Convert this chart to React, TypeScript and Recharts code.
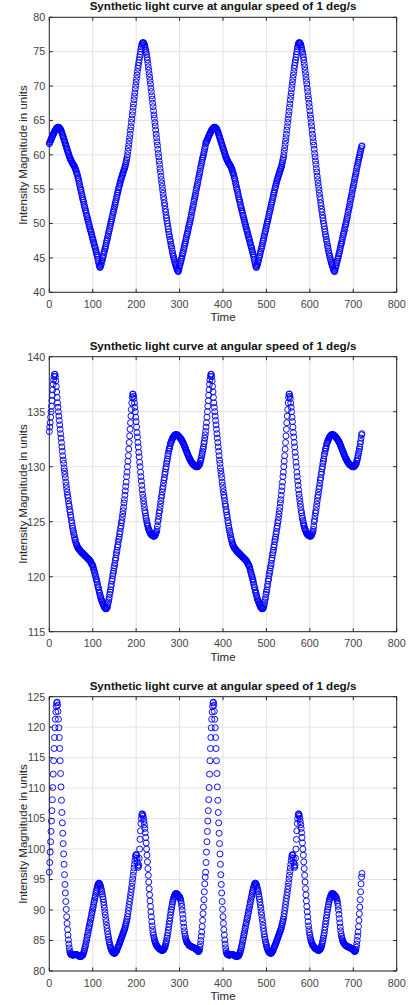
// Three stacked MATLAB-style scatter panels: synthetic light curves sampled once per degree, 0..720.
import { CartesianGrid, ReferenceArea, Scatter, ScatterChart, XAxis, YAxis } from 'recharts';

const TITLE = 'Synthetic light curve at angular speed of 1 deg/s';
const X_LABEL = 'Time';
const Y_LABEL = 'Intensity Magnitude in units';
const TIME_TICKS = [0, 100, 200, 300, 400, 500, 600, 700, 800];

// one 360-degree cycle per panel (the second half of each plot repeats it), plus the point at t=720
const CURVE_A_CYCLE = [
  61.6, 61.8, 61.9, 62.1, 62.2, 62.4, 62.5, 62.7, 62.8, 63.0,
  63.1, 63.2, 63.4, 63.5, 63.6, 63.7, 63.8, 63.9, 63.9, 64.0,
  64.0, 64.0, 64.0, 63.9, 63.9, 63.8, 63.7, 63.5, 63.4, 63.2,
  63.0, 62.8, 62.6, 62.4, 62.2, 62.0, 61.8, 61.6, 61.4, 61.2,
  61.0, 60.8, 60.6, 60.4, 60.2, 60.0, 59.8, 59.6, 59.5, 59.3,
  59.2, 59.1, 58.9, 58.8, 58.7, 58.6, 58.5, 58.4, 58.3, 58.1,
  58.0, 57.8, 57.6, 57.4, 57.2, 57.0, 56.7, 56.5, 56.2, 55.9,
  55.6, 55.3, 55.0, 54.8, 54.5, 54.2, 53.9, 53.6, 53.4, 53.1,
  52.8, 52.5, 52.3, 52.0, 51.8, 51.5, 51.2, 51.0, 50.7, 50.5,
  50.2, 50.0, 49.7, 49.5, 49.2, 49.0, 48.8, 48.5, 48.3, 48.0,
  47.8, 47.6, 47.3, 47.1, 46.8, 46.6, 46.4, 46.1, 45.9, 45.6,
  45.4, 45.1, 44.8, 44.5, 44.2, 43.9, 43.7, 43.6, 43.8, 44.0,
  44.2, 44.5, 44.7, 45.0, 45.2, 45.5, 45.8, 46.0, 46.3, 46.5,
  46.8, 47.1, 47.4, 47.6, 47.9, 48.2, 48.5, 48.8, 49.0, 49.3,
  49.6, 49.9, 50.2, 50.4, 50.7, 51.0, 51.3, 51.6, 51.8, 52.1,
  52.4, 52.7, 53.0, 53.2, 53.5, 53.8, 54.1, 54.4, 54.6, 54.9,
  55.2, 55.4, 55.7, 55.9, 56.2, 56.4, 56.6, 56.8, 57.0, 57.2,
  57.4, 57.6, 57.8, 58.0, 58.2, 58.4, 58.7, 59.0, 59.3, 59.6,
  60.0, 60.5, 61.0, 61.5, 62.0, 62.5, 63.0, 63.6, 64.1, 64.7,
  65.2, 65.8, 66.3, 66.9, 67.4, 68.0, 68.5, 69.0, 69.6, 70.1,
  70.6, 71.1, 71.6, 72.1, 72.6, 73.0, 73.4, 73.8, 74.2, 74.6,
  75.0, 75.4, 75.7, 76.0, 76.2, 76.3, 76.3, 76.3, 76.2, 76.0,
  75.8, 75.5, 75.2, 74.9, 74.6, 74.2, 73.8, 73.3, 72.8, 72.3,
  71.8, 71.3, 70.8, 70.3, 69.7, 69.2, 68.6, 68.1, 67.5, 67.0,
  66.4, 65.8, 65.3, 64.7, 64.2, 63.6, 63.0, 62.5, 61.9, 61.4,
  60.8, 60.2, 59.7, 59.1, 58.6, 58.0, 57.5, 56.9, 56.4, 55.9,
  55.4, 54.9, 54.4, 53.9, 53.5, 53.0, 52.6, 52.1, 51.7, 51.2,
  50.8, 50.4, 50.0, 49.6, 49.2, 48.8, 48.4, 48.1, 47.7, 47.4,
  47.0, 46.7, 46.4, 46.0, 45.7, 45.4, 45.2, 44.9, 44.7, 44.4,
  44.2, 44.0, 43.8, 43.6, 43.4, 43.2, 43.1, 43.0, 43.2, 43.5,
  43.8, 44.0, 44.3, 44.5, 44.8, 45.0, 45.3, 45.6, 45.8, 46.1,
  46.4, 46.7, 47.0, 47.2, 47.5, 47.8, 48.1, 48.4, 48.6, 48.9,
  49.2, 49.5, 49.8, 50.0, 50.3, 50.6, 50.9, 51.2, 51.6, 51.9,
  52.2, 52.5, 52.8, 53.2, 53.5, 53.8, 54.1, 54.4, 54.8, 55.1,
  55.4, 55.7, 56.0, 56.4, 56.7, 57.0, 57.3, 57.6, 58.0, 58.3,
  58.6, 58.9, 59.2, 59.5, 59.7, 60.0, 60.3, 60.6, 60.9, 61.2,
];
const CURVE_A_END = 61.3;
const CURVE_A_TICKS = [40, 45, 50, 55, 60, 65, 70, 75, 80];

const CURVE_B_CYCLE = [
  133.2, 133.6, 134.0, 134.5, 135.0, 135.5, 136.0, 136.5, 137.0, 137.5,
  137.9, 138.2, 138.4, 138.4, 138.2, 137.8, 137.3, 136.8, 136.3, 135.8,
  135.4, 135.0, 134.6, 134.2, 133.8, 133.4, 133.0, 132.6, 132.2, 131.8,
  131.4, 131.0, 130.6, 130.3, 129.9, 129.6, 129.3, 129.0, 128.6, 128.3,
  128.0, 127.7, 127.4, 127.2, 126.9, 126.6, 126.4, 126.1, 125.9, 125.6,
  125.4, 125.1, 124.9, 124.6, 124.4, 124.2, 124.0, 123.8, 123.6, 123.4,
  123.3, 123.1, 123.0, 122.9, 122.8, 122.7, 122.6, 122.6, 122.5, 122.5,
  122.4, 122.4, 122.3, 122.3, 122.2, 122.2, 122.2, 122.1, 122.1, 122.0,
  122.0, 122.0, 121.9, 121.9, 121.8, 121.8, 121.8, 121.7, 121.7, 121.6,
  121.6, 121.6, 121.5, 121.5, 121.4, 121.4, 121.3, 121.2, 121.1, 121.1,
  121.0, 120.9, 120.7, 120.6, 120.4, 120.3, 120.1, 120.0, 119.8, 119.7,
  119.5, 119.3, 119.1, 119.0, 118.8, 118.6, 118.5, 118.3, 118.2, 118.0,
  117.9, 117.8, 117.7, 117.6, 117.5, 117.4, 117.3, 117.2, 117.2, 117.1,
  117.1, 117.1, 117.1, 117.2, 117.3, 117.5, 117.7, 117.9, 118.1, 118.4,
  118.6, 118.8, 119.1, 119.3, 119.6, 119.8, 120.1, 120.3, 120.5, 120.8,
  121.0, 121.2, 121.5, 121.7, 122.0, 122.2, 122.4, 122.7, 122.9, 123.2,
  123.4, 123.6, 123.9, 124.1, 124.4, 124.6, 124.9, 125.1, 125.4, 125.7,
  126.0, 126.3, 126.7, 127.0, 127.4, 127.8, 128.2, 128.6, 129.1, 129.5,
  130.0, 130.5, 131.0, 131.6, 132.2, 132.8, 133.4, 134.0, 134.6, 135.2,
  135.8, 136.3, 136.6, 136.6, 136.4, 136.2, 135.8, 135.4, 135.0, 134.5,
  134.1, 133.6, 133.1, 132.7, 132.2, 131.8, 131.3, 130.9, 130.4, 130.0,
  129.5, 129.1, 128.7, 128.3, 127.9, 127.5, 127.2, 126.9, 126.6, 126.3,
  126.0, 125.8, 125.5, 125.3, 125.1, 124.9, 124.7, 124.6, 124.4, 124.3,
  124.2, 124.1, 124.0, 123.9, 123.9, 123.8, 123.8, 123.8, 123.7, 123.7,
  123.7, 123.7, 123.7, 123.7, 123.8, 123.9, 124.0, 124.1, 124.3, 124.6,
  125.0, 125.2, 125.5, 125.8, 126.0, 126.3, 126.6, 126.9, 127.2, 127.4,
  127.7, 128.0, 128.2, 128.5, 128.8, 129.0, 129.3, 129.5, 129.8, 130.0,
  130.3, 130.5, 130.7, 131.0, 131.2, 131.4, 131.6, 131.7, 131.9, 132.1,
  132.2, 132.3, 132.4, 132.5, 132.6, 132.7, 132.7, 132.8, 132.8, 132.9,
  132.9, 132.9, 132.9, 132.9, 132.9, 132.9, 132.8, 132.8, 132.8, 132.7,
  132.7, 132.6, 132.6, 132.5, 132.5, 132.4, 132.3, 132.3, 132.2, 132.1,
  132.0, 131.9, 131.8, 131.7, 131.6, 131.5, 131.4, 131.3, 131.2, 131.1,
  131.0, 130.9, 130.8, 130.7, 130.7, 130.6, 130.5, 130.4, 130.4, 130.3,
  130.3, 130.2, 130.2, 130.2, 130.1, 130.1, 130.1, 130.0, 130.0, 130.0,
  130.0, 130.0, 130.0, 130.1, 130.1, 130.2, 130.2, 130.3, 130.5, 130.6,
  130.8, 131.0, 131.2, 131.4, 131.6, 131.8, 132.1, 132.3, 132.6, 132.9,
];
const CURVE_B_END = 133.0;
const CURVE_B_TICKS = [115, 120, 125, 130, 135, 140];

const CURVE_C_CYCLE = [
  96.2, 97.8, 99.5, 101.2, 102.9, 104.6, 106.3, 108.1, 110.1, 112.3,
  114.5, 116.5, 118.3, 119.9, 121.3, 122.5, 123.4, 124.0, 124.1, 123.6,
  122.6, 121.3, 119.9, 118.3, 116.5, 114.5, 112.4, 110.2, 108.0, 106.0,
  104.3, 102.6, 100.9, 99.2, 97.5, 95.8, 94.2, 92.8, 91.4, 90.1,
  88.9, 87.8, 86.8, 85.9, 85.1, 84.4, 83.8, 83.3, 83.0, 82.8,
  82.7, 82.7, 82.7, 82.6, 82.6, 82.6, 82.6, 82.7, 82.7, 82.7,
  82.7, 82.7, 82.7, 82.7, 82.6, 82.6, 82.6, 82.5, 82.5, 82.4,
  82.4, 82.4, 82.4, 82.4, 82.4, 82.5, 82.5, 82.6, 82.8, 83.0,
  83.2, 83.5, 83.8, 84.1, 84.4, 84.8, 85.1, 85.5, 85.9, 86.2,
  86.6, 87.0, 87.3, 87.7, 88.0, 88.4, 88.7, 89.1, 89.5, 89.8,
  90.2, 90.5, 90.9, 91.3, 91.6, 92.0, 92.3, 92.7, 93.0, 93.3,
  93.6, 93.9, 94.1, 94.3, 94.4, 94.4, 94.3, 94.1, 93.9, 93.6,
  93.3, 93.0, 92.6, 92.2, 91.8, 91.3, 90.8, 90.3, 89.7, 89.2,
  88.6, 88.1, 87.5, 87.0, 86.5, 86.0, 85.6, 85.2, 84.8, 84.5,
  84.2, 83.9, 83.7, 83.5, 83.3, 83.2, 83.1, 83.0, 83.0, 82.9,
  82.9, 82.9, 83.0, 83.1, 83.2, 83.3, 83.5, 83.7, 83.9, 84.1,
  84.2, 84.4, 84.6, 84.8, 85.0, 85.2, 85.4, 85.6, 85.8, 86.0,
  86.2, 86.4, 86.6, 86.8, 87.0, 87.3, 87.6, 87.9, 88.2, 88.5,
  88.9, 89.4, 89.9, 90.4, 90.9, 91.4, 91.9, 92.4, 92.9, 93.4,
  93.9, 94.5, 95.1, 95.7, 96.3, 96.9, 97.5, 98.1, 98.6, 99.0,
  99.1, 99.0, 98.5, 97.8, 97.2, 97.0, 97.4, 98.5, 100.0, 101.6,
  103.0, 104.2, 105.0, 105.6, 105.8, 105.7, 105.4, 105.0, 104.5, 104.0,
  103.4, 102.7, 101.9, 101.0, 100.0, 99.0, 97.9, 96.8, 95.7, 94.6,
  93.5, 92.5, 91.5, 90.6, 89.7, 88.9, 88.1, 87.4, 86.8, 86.3,
  85.9, 85.5, 85.2, 84.9, 84.7, 84.5, 84.3, 84.2, 84.1, 84.0,
  83.9, 83.8, 83.7, 83.7, 83.6, 83.6, 83.5, 83.5, 83.4, 83.4,
  83.4, 83.4, 83.4, 83.5, 83.6, 83.7, 83.9, 84.1, 84.4, 84.7,
  85.0, 85.4, 85.8, 86.2, 86.7, 87.2, 87.7, 88.2, 88.7, 89.2,
  89.7, 90.1, 90.5, 90.9, 91.3, 91.6, 91.9, 92.1, 92.3, 92.5,
  92.6, 92.7, 92.7, 92.7, 92.6, 92.6, 92.5, 92.4, 92.3, 92.2,
  92.2, 92.0, 91.8, 91.5, 91.1, 90.6, 90.0, 89.3, 88.6, 87.9,
  87.2, 86.6, 86.1, 85.7, 85.4, 85.1, 84.9, 84.7, 84.6, 84.5,
  84.4, 84.3, 84.2, 84.2, 84.1, 84.1, 84.0, 84.0, 84.0, 83.9,
  83.9, 83.9, 83.8, 83.8, 83.8, 83.7, 83.7, 83.6, 83.6, 83.5,
  83.5, 83.4, 83.3, 83.2, 83.2, 83.3, 83.5, 83.9, 84.4, 85.0,
  85.7, 86.4, 87.3, 88.3, 89.4, 90.5, 91.7, 93.0, 94.3, 95.4,
];
const CURVE_C_END = 96.0;
const CURVE_C_TICKS = [80, 85, 90, 95, 100, 105, 110, 115, 120, 125];

const FONT = '"Liberation Sans", Arial, Helvetica, sans-serif';
const AXIS_COLOR = '#262626';
const TICK_TEXT = '#444444';
const GRID_COLOR = '#e3e3e3';
const MARKER = '#0000ff';

const W = 409;
const PLOT_LEFT = 49.3;
const PLOT_RIGHT = 396.7;
const Y_AXIS_W = 40;
const X_AXIS_H = 30;

function toRows(cycle: number[], end: number) {
  return [...cycle, ...cycle, end].map((v, i) => ({ t: i, v }));
}

interface PanelProps {
  top: number;
  height: number;
  plotTop: number;
  plotBottom: number;
  yTicks: number[];
  rows: { t: number; v: number }[];
}

function Panel({ top, height, plotTop, plotBottom, yTicks, rows }: PanelProps) {
  const mTop = plotTop - top;
  const mBottom = top + height - plotBottom - X_AXIS_H;
  const localTop = mTop;
  const localBottom = plotBottom - top;
  const yMin = yTicks[0];
  const yMax = yTicks[yTicks.length - 1];

  const xTick = (p: any) => (
    <g>
      <line x1={p.x} x2={p.x} y1={localBottom} y2={localBottom - 3.5} stroke={AXIS_COLOR} />
      <line x1={p.x} x2={p.x} y1={localTop} y2={localTop + 3.5} stroke={AXIS_COLOR} />
      <text x={p.x} y={localBottom + 15.5} textAnchor="middle" fontSize={10.8} fontFamily={FONT} fill={TICK_TEXT}>
        {p.payload.value}
      </text>
    </g>
  );
  const yTick = (p: any) => (
    <g>
      <line x1={PLOT_LEFT} x2={PLOT_LEFT + 3.5} y1={p.y} y2={p.y} stroke={AXIS_COLOR} />
      <line x1={PLOT_RIGHT} x2={PLOT_RIGHT - 3.5} y1={p.y} y2={p.y} stroke={AXIS_COLOR} />
      <text x={PLOT_LEFT - 4} y={p.y + 3.8} textAnchor="end" fontSize={10.8} fontFamily={FONT} fill={TICK_TEXT}>
        {p.payload.value}
      </text>
    </g>
  );

  return (
    <div style={{ position: 'absolute', left: 0, top, width: W, height }}>
      <ScatterChart
        width={W}
        height={height}
        margin={{ top: mTop, right: W - PLOT_RIGHT, bottom: mBottom, left: PLOT_LEFT - Y_AXIS_W }}
      >
        <CartesianGrid stroke={GRID_COLOR} strokeWidth={1} />
        <XAxis
          type="number"
          dataKey="t"
          domain={[0, 800]}
          ticks={TIME_TICKS}
          height={X_AXIS_H}
          axisLine={false}
          tickLine={false}
          tick={xTick}
          interval={0}
        />
        <YAxis
          type="number"
          dataKey="v"
          domain={[yMin, yMax]}
          ticks={yTicks}
          width={Y_AXIS_W}
          axisLine={false}
          tickLine={false}
          tick={yTick}
          interval={0}
        />
        <ReferenceArea x1={0} x2={800} y1={yMin} y2={yMax} fill="none" stroke={AXIS_COLOR} strokeWidth={1} />
        <Scatter
          data={rows}
          isAnimationActive={false}
          shape={(p: any) => (
            <circle cx={p.cx} cy={p.cy} r={3} fill="none" stroke={MARKER} strokeWidth={0.95} />
          )}
        />
      </ScatterChart>
      <div
        style={{
          position: 'absolute', left: PLOT_LEFT, width: PLOT_RIGHT - PLOT_LEFT, top: mTop - 18,
          textAlign: 'center', fontFamily: FONT, fontWeight: 'bold', fontSize: 11.6, color: '#111',
          whiteSpace: 'nowrap',
        }}
      >
        {TITLE}
      </div>
      <div
        style={{
          position: 'absolute', left: PLOT_LEFT, width: PLOT_RIGHT - PLOT_LEFT, top: localBottom + 19,
          textAlign: 'center', fontFamily: FONT, fontSize: 11.5, color: AXIS_COLOR, whiteSpace: 'nowrap',
        }}
      >
        {X_LABEL}
      </div>
      <div
        style={{
          position: 'absolute', left: 23, top: (localTop + localBottom) / 2,
          transform: 'translate(-50%, -50%) rotate(-90deg)', fontFamily: FONT, fontSize: 11.5,
          color: AXIS_COLOR, whiteSpace: 'nowrap',
        }}
      >
        {Y_LABEL}
      </div>
    </div>
  );
}

export default function App() {
  return (
    <div style={{ position: 'absolute', left: 0, top: 0, width: W, height: 1005, background: '#fff', overflow: 'hidden' }}>
      <Panel top={0} height={335} plotTop={17.3} plotBottom={292.3} yTicks={CURVE_A_TICKS} rows={toRows(CURVE_A_CYCLE, CURVE_A_END)} />
      <Panel top={338} height={335} plotTop={356.7} plotBottom={631.7} yTicks={CURVE_B_TICKS} rows={toRows(CURVE_B_CYCLE, CURVE_B_END)} />
      <Panel top={678} height={327} plotTop={696.7} plotBottom={971} yTicks={CURVE_C_TICKS} rows={toRows(CURVE_C_CYCLE, CURVE_C_END)} />
    </div>
  );
}
